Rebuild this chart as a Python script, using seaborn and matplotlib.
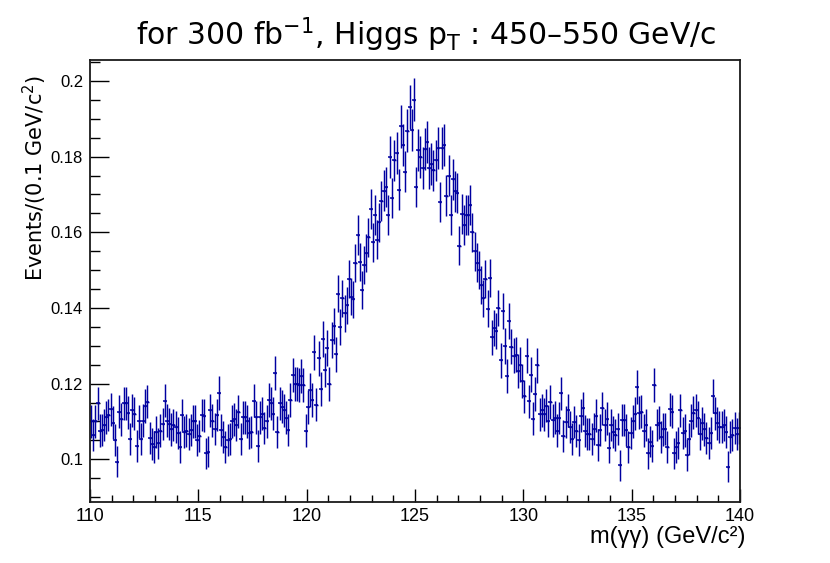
import numpy as np
import pandas as pd
import matplotlib
matplotlib.use("Agg")
import matplotlib.pyplot as plt
import seaborn as sns
from matplotlib.ticker import MultipleLocator, FuncFormatter

# diphoton mass histogram, 0.1 GeV bins from 110 to 140
mass_lo = 110.0
mass_hi = 140.0
bin_width = 0.1

events = [
    0.1100, 0.1064, 0.1100, 0.1148, 0.1076, 0.1078, 0.1090, 0.1111, 0.1117, 0.1132,
    0.1097, 0.1051, 0.0993, 0.1126, 0.1106, 0.1148, 0.1148, 0.1123, 0.1053, 0.1129,
    0.1120, 0.1035, 0.1100, 0.1053, 0.1102, 0.1141, 0.1152, 0.1056, 0.1040, 0.1033,
    0.1073, 0.1042, 0.1076, 0.1093, 0.1155, 0.1102, 0.1093, 0.1079, 0.1091, 0.1086,
    0.1069, 0.1032, 0.1117, 0.1073, 0.1076, 0.1067, 0.1078, 0.1100, 0.1100, 0.1051,
    0.1062, 0.1117, 0.1115, 0.1016, 0.1020, 0.1129, 0.1102, 0.1080, 0.1117, 0.1176,
    0.1078, 0.1060, 0.1032, 0.1051, 0.1053, 0.1100, 0.1106, 0.1090, 0.1126, 0.1053,
    0.1111, 0.1111, 0.1100, 0.1070, 0.1073, 0.1155, 0.1111, 0.1035, 0.1111, 0.1120,
    0.1082, 0.1100, 0.1157, 0.1148, 0.1120, 0.1228, 0.1073, 0.1148, 0.1139, 0.1130,
    0.1110, 0.1078, 0.1157, 0.1223, 0.1199, 0.1200, 0.1197, 0.1220, 0.1196, 0.1076,
    0.1138, 0.1183, 0.1157, 0.1283, 0.1144, 0.1267, 0.1185, 0.1318, 0.1236, 0.1294,
    0.1199, 0.1316, 0.1353, 0.1278, 0.1438, 0.1350, 0.1426, 0.1386, 0.1407, 0.1476,
    0.1430, 0.1423, 0.1519, 0.1593, 0.1521, 0.1448, 0.1514, 0.1545, 0.1587, 0.1662,
    0.1574, 0.1646, 0.1580, 0.1626, 0.1682, 0.1710, 0.1720, 0.1646, 0.1800, 0.1690,
    0.1790, 0.1810, 0.1713, 0.1880, 0.1830, 0.1760, 0.1869, 0.1931, 0.1870, 0.1951,
    0.1720, 0.1818, 0.1800, 0.1770, 0.1820, 0.1838, 0.1770, 0.1780, 0.1764, 0.1790,
    0.1823, 0.1680, 0.1823, 0.1830, 0.1697, 0.1750, 0.1646, 0.1740, 0.1708, 0.1704,
    0.1564, 0.1649, 0.1620, 0.1646, 0.1646, 0.1672, 0.1600, 0.1550, 0.1520, 0.1500,
    0.1461, 0.1426, 0.1476, 0.1398, 0.1479, 0.1322, 0.1347, 0.1338, 0.1400, 0.1262,
    0.1392, 0.1300, 0.1221, 0.1366, 0.1298, 0.1274, 0.1276, 0.1233, 0.1250, 0.1207,
    0.1166, 0.1274, 0.1153, 0.1224, 0.1107, 0.1173, 0.1248, 0.1119, 0.1130, 0.1119,
    0.1142, 0.1101, 0.1151, 0.1103, 0.1110, 0.1076, 0.1109, 0.1174, 0.1062, 0.1099,
    0.1130, 0.1085, 0.1054, 0.1099, 0.1074, 0.1051, 0.1115, 0.1135, 0.1074, 0.1067,
    0.1067, 0.1054, 0.1080, 0.1115, 0.1038, 0.1078, 0.1135, 0.1090, 0.1107, 0.1031,
    0.1091, 0.1073, 0.1064, 0.1080, 0.0984, 0.1104, 0.1104, 0.1078, 0.1032, 0.1069,
    0.1100, 0.1120, 0.1192, 0.1123, 0.1126, 0.1076, 0.1091, 0.1016, 0.1047, 0.1035,
    0.1197, 0.1091, 0.1097, 0.1058, 0.1079, 0.1080, 0.1032, 0.1132, 0.1126, 0.1016,
    0.1032, 0.1044, 0.1129, 0.1070, 0.1076, 0.1011, 0.1053, 0.1102, 0.1123, 0.1129,
    0.1110, 0.1067, 0.1095, 0.1079, 0.1056, 0.1044, 0.1069, 0.1167, 0.1122, 0.1095,
    0.1086, 0.1086, 0.1090, 0.1073, 0.0980, 0.1060, 0.1064, 0.1082, 0.1067, 0.1082,
]

# weighted-histogram errors scale like sqrt(content)
err_scale = 0.013

title = "for 300 fb$^{\\mathregular{-1}}$, Higgs p$_{\\mathregular{T}}$ : 450\u2013550 GeV/c"
y_title = "Events/(0.1 GeV/c$^{\\mathregular{2}}$)"
x_title = "m(\u03b3\u03b3) (GeV/c\u00b2)"

sns.set_style("ticks")
plt.rcParams["font.family"] = ["Liberation Sans", "DejaVu Sans"]
plt.rcParams["mathtext.default"] = "regular"
plt.rcParams["text.color"] = "black"
plt.rcParams["xtick.color"] = "black"
plt.rcParams["ytick.color"] = "black"

n_bins = len(events)
df = pd.DataFrame({
    "mass": mass_lo + bin_width * (np.arange(n_bins) + 0.5),
    "events": events,
})
df["err"] = err_scale * np.sqrt(df["events"])

color = "#0000a0"
fig = plt.figure(figsize=(8.3, 5.63), dpi=100)
ax = fig.add_axes([90 / 830, 61 / 563, 650 / 830, 442 / 563])

ax.errorbar(df["mass"], df["events"], xerr=bin_width / 2, yerr=df["err"],
            fmt="none", ecolor=color, elinewidth=1.05, capsize=0)
sns.scatterplot(data=df, x="mass", y="events", marker="_", s=10,
                color=color, linewidth=1.1, ax=ax, legend=False)

ax.set_xlim(mass_lo, mass_hi)
ax.set_ylim(0.08871, 0.20555)
ax.set_xlabel("")
ax.set_ylabel("")

ax.xaxis.set_major_locator(MultipleLocator(5))
ax.xaxis.set_minor_locator(MultipleLocator(1))
ax.yaxis.set_major_locator(MultipleLocator(0.02))
ax.yaxis.set_minor_locator(MultipleLocator(0.005))
ax.yaxis.set_major_formatter(FuncFormatter(lambda v, p: f"{v:g}"))
ax.xaxis.set_major_formatter(FuncFormatter(lambda v, p: f"{v:g}"))

ax.tick_params(axis="both", which="both", direction="in", top=False, right=False,
               width=1.0, color="black")
ax.tick_params(axis="y", which="major", length=14, labelsize=12, pad=5)
ax.tick_params(axis="y", which="minor", length=7)
ax.tick_params(axis="x", which="major", length=9.5, labelsize=13, pad=4)
ax.tick_params(axis="x", which="minor", length=5)

for side in ax.spines.values():
    side.set_visible(True)
    side.set_linewidth(1.3)
    side.set_color("#1a1a1a")

fig.text(426 / 830, 1 - 35 / 563, title, ha="center", va="center", fontsize=21.5,
         family=["Liberation Sans Narrow", "DejaVu Sans"])
fig.text(35 / 830, 1 - 178 / 563, y_title, ha="center", va="center", rotation=90,
         fontsize=15, family=["Liberation Sans Narrow", "DejaVu Sans"])
fig.text(745 / 830, 1 - 537 / 563, x_title, ha="right", va="center", fontsize=17)

fig.savefig("out.png", dpi=100)
